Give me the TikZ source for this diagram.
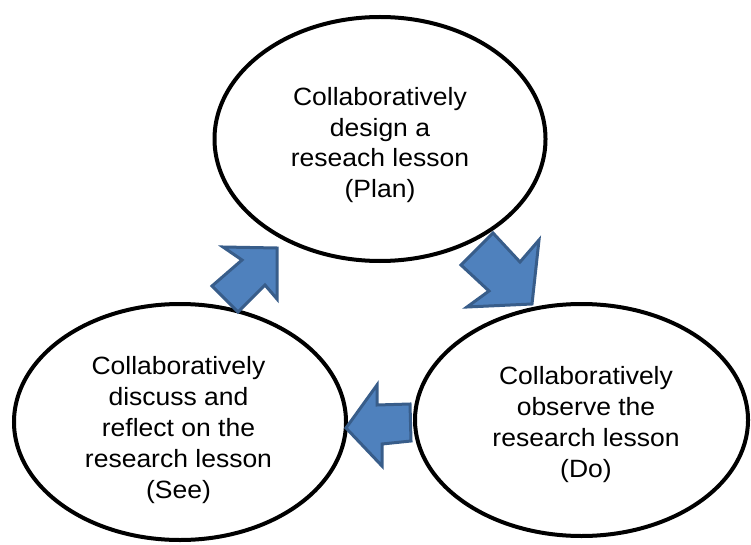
\documentclass[tikz,border=0pt]{standalone}
\usepackage{fontspec}
\setmainfont{Liberation Sans}[FakeStretch=1.06]
\usetikzlibrary{shapes.geometric}
\definecolor{arrowfill}{HTML}{4F81BD}
\definecolor{arrowline}{HTML}{385D8A}
\tikzset{
  phase/.style={ellipse, draw=black, line width=4pt, fill=white, inner sep=0pt},
  label/.style={align=center, inner sep=0pt, font={\fontsize{25}{30.8}\selectfont}},
  blockarrow/.style={fill=arrowfill, draw=arrowline, line width=3pt, line join=miter}
}
\begin{document}
\begin{tikzpicture}[x=1pt,y=-1pt]
\useasboundingbox (0,0) rectangle (751,545);
\fill[white] (0,0) rectangle (751,545);
% ellipses
\node[phase, minimum width=331pt, minimum height=244pt] (plan) at (380,139) {};
\node[phase, minimum width=332pt, minimum height=236pt] (see) at (180,422) {};
\node[phase, minimum width=333pt, minimum height=232pt] (do) at (581.5,420) {};
% texts
\node[label] (plantext) at (380,145) {Collaboratively\\design a\\reseach lesson\\(Plan)};
\node[label] (seetext) at (178.5,430) {Collaboratively\\discuss and\\reflect on the\\research lesson\\(See)};
\node[label] (dotext) at (586,424.5) {Collaboratively\\observe the\\research lesson\\(Do)};
% block arrows
\draw[blockarrow] (493,233) -- (520,262) -- (539,240) -- (532,304) -- (467,307) -- (489,291) -- (461,265) -- cycle;
\draw[blockarrow] (277,248) -- (223,247) -- (242,260) -- (212,286) -- (238,312) -- (265,285) -- (277,299) -- cycle;
\draw[blockarrow] (346,428) -- (377,385) -- (377,405) -- (410,404) -- (411,441) -- (382,444) -- (382,466) -- cycle;
\end{tikzpicture}
\end{document}
